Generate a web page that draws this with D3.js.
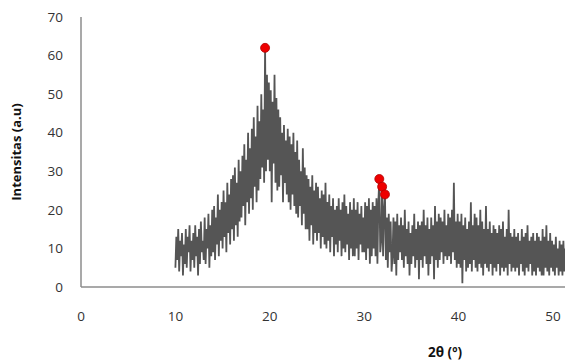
<!DOCTYPE html>
<html>
<head>
<meta charset="utf-8">
<script src="https://cdn.jsdelivr.net/npm/d3@7"></script>
<style>
  html, body { margin: 0; padding: 0; background: #fff; }
  svg { display: block; }
</style>
</head>
<body>
<svg id="chart" width="565" height="360"></svg>
<script>
// ---- Data ----
const xStart = 10.0;      // first 2θ value
const xStep = 0.1;        // sampling step of the pattern
const intensity = [
  5,13,7,15,4,12,8,14,3,11,
  6,15,5,13,9,16,4,12,7,14,
  5,16,8,13,3,15,6,17,9,12,
  7,18,6,15,10,19,5,16,8,20,
  9,21,7,18,11,24,8,20,12,22,
  10,25,13,22,9,27,14,24,11,28,
  15,29,12,31,16,27,13,33,17,30,
  18,34,21,37,16,33,22,40,19,36,
  23,41,20,44,26,39,22,47,25,43,
  28,50,31,46,27,62,30,55,33,53,
  30,51,22,48,32,55,27,49,25,46,
  26,44,29,40,22,42,27,38,24,41,
  22,39,20,37,24,40,21,35,19,38,
  18,33,21,30,16,36,19,31,15,29,
  15,28,12,26,16,29,11,25,14,27,
  12,26,14,23,10,25,13,24,11,27,
  10,22,12,24,9,21,13,23,8,20,
  11,21,9,23,12,20,8,22,10,24,
  9,21,11,19,7,22,10,20,8,23,
  8,20,10,22,7,19,11,21,9,18,
  9,22,7,21,10,23,6,20,8,22,
  10,21,8,23,6,22,28,9,12,26,
  8,20,24,7,18,5,19,9,17,4,
  8,18,6,17,3,19,7,16,9,18,
  7,16,5,20,8,15,6,17,3,14,
  6,16,8,19,5,15,7,17,2,16,
  7,17,5,20,8,16,6,18,3,15,
  6,18,8,16,2,21,7,17,5,19,
  7,18,9,17,6,20,8,16,7,19,
  8,18,6,20,9,27,7,17,5,19,
  6,17,5,19,1,16,7,18,4,15,
  5,17,6,22,4,16,7,19,5,18,
  4,16,6,20,5,17,3,15,6,21,
  5,15,4,17,6,14,3,16,5,15,
  4,14,6,16,3,15,5,17,4,13,
  5,15,3,20,6,14,4,13,5,15,
  4,13,5,14,3,12,6,15,4,13,
  3,14,5,16,4,12,6,13,3,14,
  4,12,3,14,5,13,4,12,3,15,
  3,13,5,16,4,12,3,14,5,12,
  4,11,3,13,5,10,3,12,4,11,
  3,12,4,10,5,13,3,11,4,12
];
const peakX = [19.5, 31.6, 31.9, 32.2];
const peakY = [62, 28, 26, 24];
const xTicks = [0, 10, 20, 30, 40, 50];
const yTicks = [0, 10, 20, 30, 40, 50, 60, 70];
const xTitle = "2θ (º)";
const yTitle = "Intensitas (a.u)";

// ---- Layout ----
const svg = d3.select("#chart");
const x = d3.scaleLinear().domain([0, 50]).range([81, 553]);
const y = d3.scaleLinear().domain([0, 70]).range([287, 17]);
const font = "'Open Sans', 'Liberation Sans', sans-serif";

const pts = intensity.map((v, i) => [xStart + i * xStep, v]);

// axes lines
svg.append("line")
  .attr("x1", x(0)).attr("x2", 565)
  .attr("y1", y(0)).attr("y2", y(0))
  .attr("stroke", "#8c8c8c").attr("stroke-width", 1.5);
svg.append("line")
  .attr("x1", x(0)).attr("x2", x(0))
  .attr("y1", y(70)).attr("y2", y(0))
  .attr("stroke", "#8c8c8c").attr("stroke-width", 1.5);

// tick labels
svg.append("g").selectAll("text").data(yTicks).join("text")
  .attr("x", 63).attr("y", d => y(d)).attr("dy", "0.35em")
  .attr("text-anchor", "end")
  .attr("font-family", font).attr("font-size", 13.5).attr("fill", "#333")
  .text(d => d);
svg.append("g").selectAll("text").data(xTicks).join("text")
  .attr("x", d => x(d)).attr("y", 316).attr("dy", "0.35em")
  .attr("text-anchor", "middle")
  .attr("font-family", font).attr("font-size", 13.5).attr("fill", "#333")
  .text(d => d);

// data line
const line = d3.line().x(d => x(d[0])).y(d => y(d[1]));
svg.append("path")
  .datum(pts)
  .attr("d", line)
  .attr("fill", "none")
  .attr("stroke", "#555")
  .attr("stroke-width", 1.8)
  .attr("stroke-linejoin", "miter")
  .attr("stroke-miterlimit", 1);

// peak markers
svg.append("g").selectAll("circle").data(peakX).join("circle")
  .attr("cx", (d) => x(d)).attr("cy", (d, i) => y(peakY[i]))
  .attr("r", 4.5)
  .attr("fill", "#ee0000").attr("stroke", "#b00000").attr("stroke-width", 0.8);

// titles
svg.append("text")
  .attr("transform", `translate(21,152) rotate(-90)`)
  .attr("text-anchor", "middle")
  .attr("font-family", font).attr("font-weight", "bold").attr("font-size", 13)
  .attr("fill", "#111")
  .text(yTitle);
svg.append("text")
  .attr("x", 445).attr("y", 352).attr("dy", "0.35em")
  .attr("text-anchor", "middle")
  .attr("font-family", font).attr("font-weight", "bold").attr("font-size", 13.5)
  .attr("fill", "#111")
  .text(xTitle);
</script>
</body>
</html>
